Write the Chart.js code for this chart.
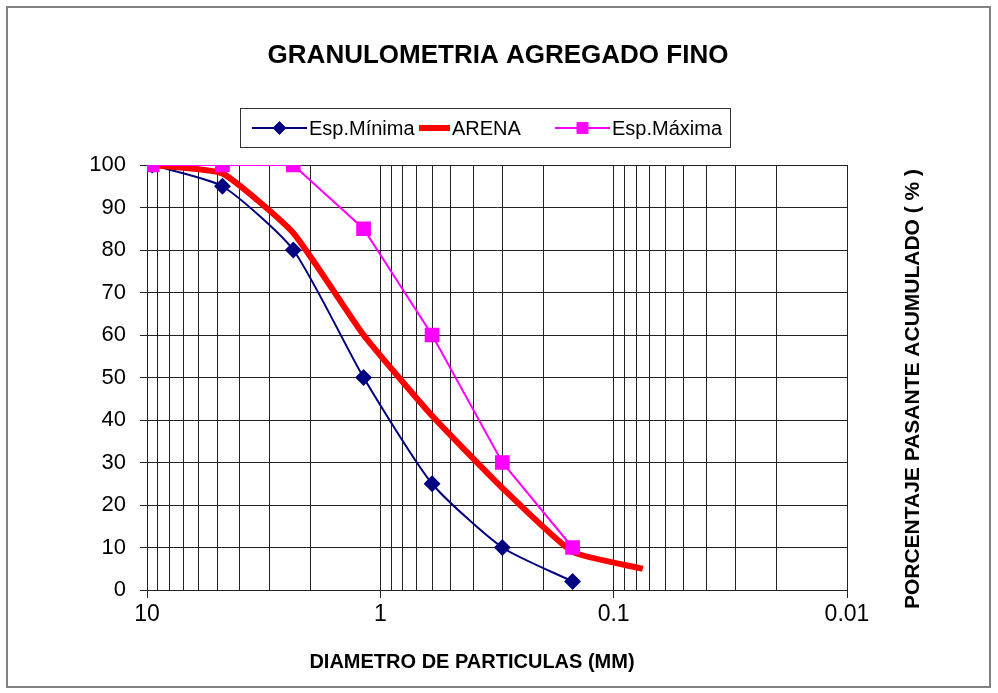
<!DOCTYPE html>
<html>
<head>
<meta charset="utf-8">
<script src="https://cdn.jsdelivr.net/npm/chart.js@4/dist/chart.umd.min.js"></script>
<style>
  html, body { margin: 0; padding: 0; background: #fff; }
  #wrap { width: 998px; height: 693px; position: relative; }
</style>
</head>
<body>
<div id="wrap"><canvas id="c" width="998" height="693"></canvas></div>
<script>
// Sieve openings (mm)
const sieves = [9.5, 4.75, 2.36, 1.18, 0.6, 0.3, 0.15];
const sievesArena = [9.5, 4.75, 2.36, 1.18, 0.6, 0.3, 0.15, 0.075];
// Cumulative percent passing
const espMinima = [100, 95, 80, 50, 25, 10, 2];
const arena = [100, 98, 84, 60, 41, 24, 9, 5];
const espMaxima = [100, 100, 100, 85, 60, 30, 10];
// Axis ticks
const decades = [10, 1, 0.1, 0.01];
const yTicks = [0, 10, 20, 30, 40, 50, 60, 70, 80, 90, 100];

const chartTitle = 'GRANULOMETRIA AGREGADO FINO';
const xTitle = 'DIAMETRO DE PARTICULAS (MM)';
const yTitle = 'PORCENTAJE PASANTE ACUMULADO ( % )';

const FONT = "'Liberation Sans', Arial, sans-serif";

function pts(xs, ys) { return xs.map((x, i) => ({ x: x, y: ys[i] })); }
function isDecade(v) {
  const l = Math.log10(v);
  return Math.abs(l - Math.round(l)) < 1e-9;
}

// Legend entry layout: start x and line-sample width per dataset
const legendX = [252, 419, 555];
const sampleW = [55, 31, 55];

const frame = {
  id: 'frame',
  beforeDraw(chart) {
    const ctx = chart.ctx;
    ctx.save();
    ctx.fillStyle = '#fff';
    ctx.fillRect(0, 0, chart.width, chart.height);
    ctx.restore();
  },
  afterDraw(chart) {
    const ctx = chart.ctx;
    ctx.save();
    // outer frame
    ctx.strokeStyle = '#808080';
    ctx.lineWidth = 2;
    ctx.strokeRect(7, 7, 983, 680);

    // chart title
    ctx.fillStyle = '#000';
    ctx.textAlign = 'center';
    ctx.textBaseline = 'middle';
    ctx.font = 'bold 26px ' + FONT;
    ctx.fillText(chartTitle, 498, 56);

    // x axis title
    ctx.font = 'bold 20px ' + FONT;
    ctx.fillText(xTitle, 472, 662);

    // y axis title, at the right
    ctx.save();
    ctx.translate(913, 389);
    ctx.rotate(-Math.PI / 2);
    ctx.font = 'bold 21px ' + FONT;
    ctx.fillText(yTitle, 0, 0);
    ctx.restore();

    // legend
    const bx = 240, by = 108, bw = 490, bh = 39;
    ctx.fillStyle = '#fff';
    ctx.fillRect(bx, by, bw, bh);
    ctx.strokeStyle = '#333';
    ctx.lineWidth = 1;
    ctx.strokeRect(bx + 0.5, by + 0.5, bw, bh);
    const cy = by + bh / 2 + 0.5;
    ctx.font = '20px ' + FONT;
    ctx.textAlign = 'left';
    chart.data.datasets.forEach((ds, i) => {
      const x = legendX[i];
      const w = sampleW[i];
      ctx.strokeStyle = ds.borderColor;
      ctx.lineWidth = ds.borderWidth;
      ctx.beginPath();
      ctx.moveTo(x, cy);
      ctx.lineTo(x + w, cy);
      ctx.stroke();
      if (ds.pointRadius > 0) {
        Chart.helpers.drawPoint(ctx, {
          pointStyle: ds.pointStyle,
          radius: ds.pointRadius * 0.75,
          borderWidth: 1,
          rotation: 0
        }, x + w / 2, cy);
        ctx.fillStyle = ds.pointBackgroundColor;
        ctx.strokeStyle = ds.pointBorderColor;
        ctx.fill();
        ctx.stroke();
      }
      ctx.fillStyle = '#000';
      ctx.fillText(ds.label, x + w + 2, cy + 1);
    });
    ctx.restore();
  }
};

new Chart(document.getElementById('c'), {
  type: 'line',
  data: {
    datasets: [
      {
        label: 'Esp.Mínima',
        data: pts(sieves, espMinima),
        borderColor: '#000080',
        backgroundColor: '#000080',
        pointBackgroundColor: '#000080',
        pointBorderColor: '#000080',
        borderWidth: 2,
        pointStyle: 'rectRot',
        pointRadius: 7,
        tension: 0.2,
        order: 2
      },
      {
        label: 'ARENA',
        data: pts(sievesArena, arena),
        borderColor: '#ff0000',
        backgroundColor: '#ff0000',
        borderWidth: 6,
        pointRadius: 0,
        tension: 0.15,
        order: 1
      },
      {
        label: 'Esp.Máxima',
        data: pts(sieves, espMaxima),
        borderColor: '#ff00ff',
        backgroundColor: '#ff00ff',
        pointBackgroundColor: '#ff00ff',
        pointBorderColor: '#ff00ff',
        borderWidth: 2,
        pointStyle: 'rect',
        pointRadius: 9,
        tension: 0,
        order: 0
      }
    ]
  },
  options: {
    responsive: false,
    animation: false,
    layout: { padding: { left: 0, right: 151, top: 165, bottom: 0 } },
    plugins: {
      legend: { display: false },
      title: { display: false },
      tooltip: { enabled: false }
    },
    scales: {
      x: {
        type: 'logarithmic',
        reverse: true,
        min: 0.01,
        max: 10,
        afterFit(scale) { scale.height = 103; },
        afterBuildTicks(scale) {
          const t = [];
          decades.slice(1).forEach(d => {
            for (let m = 1; m <= 9; m++) t.push({ value: Number((m * d).toPrecision(3)) });
          });
          t.push({ value: decades[0] });
          scale.ticks = t;
        },
        grid: {
          color: '#222',
          lineWidth: 1,
          tickLength: 8,
          tickColor: ctx => (ctx.tick && isDecade(ctx.tick.value)) ? '#222' : 'rgba(0,0,0,0)'
        },
        border: { color: '#222', width: 1 },
        ticks: {
          autoSkip: false,
          maxRotation: 0,
          padding: 3,
          color: '#000',
          font: { family: FONT, size: 23 },
          callback: v => isDecade(v) ? String(Number(v.toPrecision(3))) : ''
        }
      },
      y: {
        type: 'linear',
        min: 0,
        max: 100,
        afterFit(scale) { scale.width = 147; },
        afterBuildTicks(scale) { scale.ticks = yTicks.map(v => ({ value: v })); },
        grid: { color: '#222', lineWidth: 1, tickLength: 7, tickColor: '#222' },
        border: { color: '#222', width: 1 },
        ticks: {
          padding: 14,
          color: '#000',
          font: { family: FONT, size: 22 }
        }
      }
    }
  },
  plugins: [frame]
});
</script>
</body>
</html>
